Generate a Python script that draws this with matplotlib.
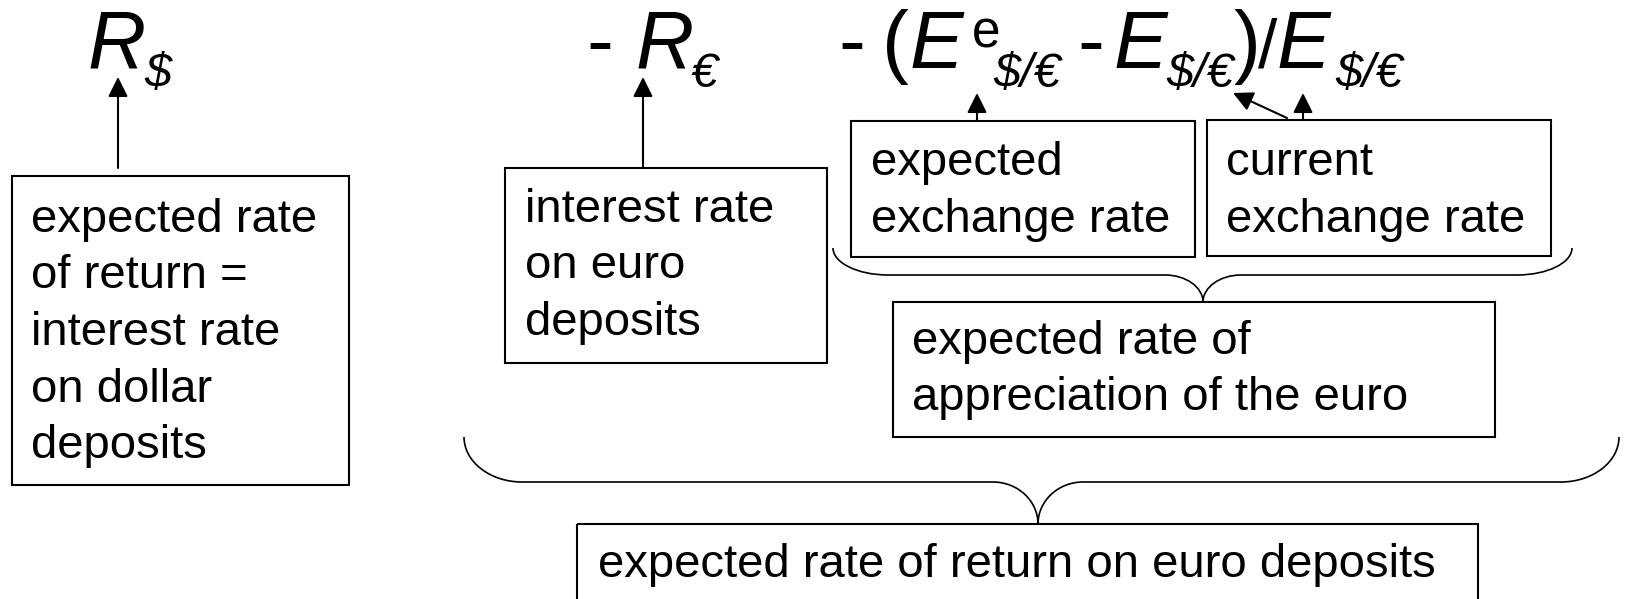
import matplotlib.pyplot as plt
from matplotlib.patches import Rectangle, PathPatch
from matplotlib.path import Path

plt.rcParams['font.family'] = ['Liberation Sans', 'DejaVu Sans']

# 박스 안의 설명 문구
label_dollar = ['expected rate', 'of return =', 'interest rate', 'on dollar', 'deposits']
label_euro_rate = ['interest rate', 'on euro', 'deposits']
label_expected_ex = ['expected', 'exchange rate']
label_current_ex = ['current', 'exchange rate']
label_appreciation = ['expected rate of', 'appreciation of the euro']
label_total = ['expected rate of return on euro deposits']

W, H = 1627, 599
fig = plt.figure(figsize=(W / 100, H / 100), dpi=100)
ax = fig.add_axes([0, 0, 1, 1])
ax.set_xlim(0, W)
ax.set_ylim(H, 0)
ax.axis('off')

BODY = 34
BIG = 58
SUB = 35


# 테두리가 있는 텍스트 박스
def text_box(x0, y0, x1, y1, lines, tx, base0, step=56.5):
    ax.add_patch(Rectangle((x0, y0), x1 - x0, y1 - y0, fill=False, ec='black', lw=1.5))
    for i, s in enumerate(lines):
        ax.text(tx, base0 + i * step, s, fontsize=BODY, va='baseline', ha='left')


# 화살표
def arrow(x0, y0, x1, y1):
    ax.annotate('', xy=(x1, y1), xytext=(x0, y0),
                arrowprops=dict(arrowstyle='-|>,head_length=0.6,head_width=0.3',
                                lw=1.5, color='black', mutation_scale=20,
                                shrinkA=0, shrinkB=0))


# 중괄호 (아래로 열린 모양)
def brace(xa, xb, xc, ytop, yflat, ycusp, rend, rmid):
    k = 0.55
    verts = [
        (xa, ytop),
        (xa, ytop + (yflat - ytop) * k), (xa + rend * (1 - k), yflat), (xa + rend, yflat),
        (xc - rmid, yflat),
        (xc - rmid * (1 - k), yflat), (xc, yflat + (ycusp - yflat) * (1 - k)), (xc, ycusp),
        (xc, yflat + (ycusp - yflat) * (1 - k)), (xc + rmid * (1 - k), yflat), (xc + rmid, yflat),
        (xb - rend, yflat),
        (xb - rend * (1 - k), yflat), (xb, ytop + (yflat - ytop) * k), (xb, ytop),
    ]
    codes = [Path.MOVETO,
             Path.CURVE4, Path.CURVE4, Path.CURVE4,
             Path.LINETO,
             Path.CURVE4, Path.CURVE4, Path.CURVE4,
             Path.CURVE4, Path.CURVE4, Path.CURVE4,
             Path.LINETO,
             Path.CURVE4, Path.CURVE4, Path.CURVE4]
    ax.add_patch(PathPatch(Path(verts, codes), fill=False, ec='black', lw=1.2))


# 수식 부분
def big(x, s, style='italic', y=68, size=BIG):
    ax.text(x, y, s, fontsize=size, style=style, va='baseline', ha='left')


SUB_Y = 87

big(88, 'R')
big(144, '$', y=SUB_Y, size=SUB)

big(586, '-', style='normal')
big(636, 'R')
big(691, '€', y=SUB_Y, size=SUB)

big(838, '-', style='normal')
big(882, '(', style='normal')
big(910, 'E')
big(972, 'e', style='normal', y=47, size=37)
big(993, '$/€', y=SUB_Y, size=SUB)
big(1077, '-', style='normal')
big(1114, 'E')
big(1166, '$/€', y=SUB_Y, size=SUB)
big(1233, ')', style='normal')
big(1258, '/', style='normal', size=50)
big(1277, 'E')
big(1335, '$/€', y=SUB_Y, size=SUB)

# 박스
text_box(12, 176, 349, 485, label_dollar, 31, 232)
text_box(505, 168, 827, 363, label_euro_rate, 525, 222)
text_box(851, 121, 1195, 257, label_expected_ex, 871, 175)
text_box(1207, 120, 1551, 256, label_current_ex, 1226, 175)
text_box(893, 302, 1495, 437, label_appreciation, 912, 354)
text_box(577, 524, 1478, 640, label_total, 598, 577)

# 화살표
arrow(118, 168, 118, 77)
arrow(643, 168, 643, 77)
arrow(977, 121, 977, 93)
arrow(1303, 120, 1303, 93)
arrow(1287, 118, 1233, 93)

# 중괄호
brace(833, 1572, 1203, 248, 275, 302, 55, 38)
brace(464, 1619, 1038, 437, 482, 524, 58, 45)

plt.savefig('out.png', dpi=100)
